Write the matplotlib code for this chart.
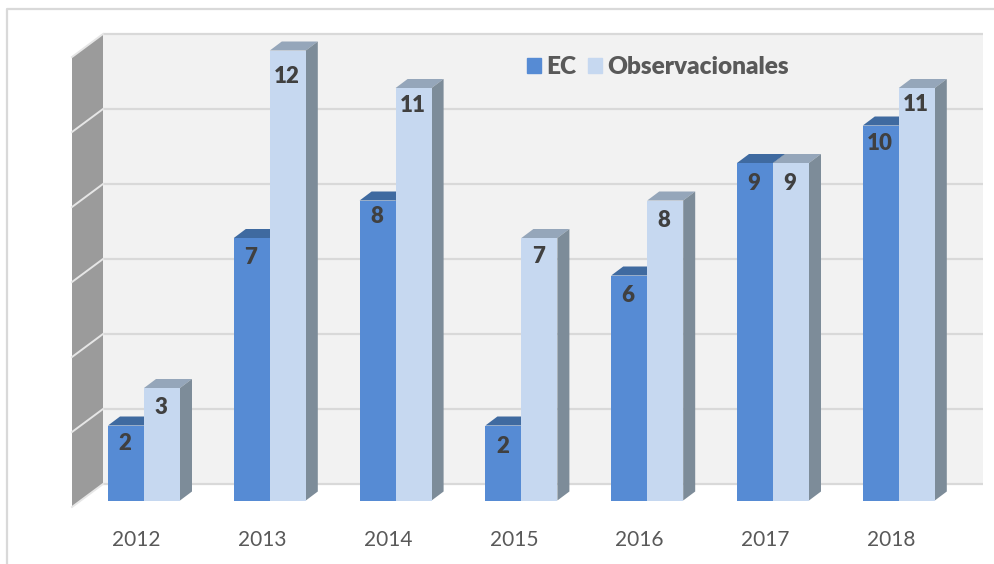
# 3D look column chart, EC vs Observacionales per year
import matplotlib
matplotlib.use('Agg')
from matplotlib import pyplot as plt
from matplotlib.patches import Patch

plt.rcParams['font.family'] = ['Lato', 'DejaVu Sans']

years = ['2012', '2013', '2014', '2015', '2016', '2017', '2018']
ec = [2, 7, 8, 2, 6, 9, 10]
obs = [3, 12, 11, 7, 8, 9, 11]
grid_values = [0, 2, 4, 6, 8, 10, 12]

# label drop below the bar top, in value units
ec_drop = [0.47, 0.53, 0.42, 0.55, 0.53, 0.55, 0.47]
obs_drop = [0.53, 0.70, 0.47, 0.50, 0.53, 0.55, 0.45]

# scale of the picture
W, H = 994, 564
unit_x = 125.8
unit_y = 37.5
x0_px = 144
y0_px = 500.5

bar_w = 36 / unit_x
depth_x = 12 / unit_x
depth_y = 9 / unit_y
wall_left = -41 / unit_x
wall_front = -72 / unit_x
wall_right = 839 / unit_x
wall_dy = 16.5 / unit_y
side_drop = 6.5 / unit_y

BLUE = '#568BD4'
BLUE_TOP = '#3F6AA0'
BLUE_SIDE = '#34587F'
LIGHT = '#C6D8F0'
LIGHT_TOP = '#95A6BA'
LIGHT_SIDE = '#7D8C99'
WALL = '#F2F2F2'
SIDE_WALL = '#9B9B9B'
GRID = '#D9D9D9'

fig = plt.figure(figsize=(W / 100, H / 100), dpi=100)
ax = fig.add_axes([0, 0, 1, 1])
ax.set_xlim(-x0_px / unit_x, (W - x0_px) / unit_x)
ax.set_ylim((y0_px - H) / unit_y, y0_px / unit_y)
ax.axis('off')

# outer chart border, only left and top are in the crop
ax.plot([-137.5 / unit_x, -137.5 / unit_x, (W - x0_px) / unit_x],
        [(y0_px - H) / unit_y, (y0_px - 8.5) / unit_y, (y0_px - 8.5) / unit_y],
        color=GRID, lw=1.6, zorder=1)

# back wall and side wall
ax.fill([wall_left, wall_right, wall_right, wall_left],
        [wall_dy, wall_dy, 12 + wall_dy, 12 + wall_dy], color=WALL, lw=0, zorder=1)
ax.fill([wall_front, wall_left, wall_left, wall_front],
        [-side_drop, wall_dy, 12 + wall_dy, 12 - side_drop], color=SIDE_WALL, lw=0, zorder=1)

for v in grid_values:
    ax.plot([wall_left, wall_right], [v + wall_dy, v + wall_dy], color=GRID, lw=1.6, zorder=2,
            solid_capstyle='butt')
    ax.plot([wall_front, wall_left], [v - side_drop, v + wall_dy], color='#E6E6E6', lw=1.4, zorder=2)


def draw_series(xs, values, front, top, side, z):
    ax.bar(xs, values, width=bar_w, color=front, lw=0, zorder=z + 0.2)
    for x, v in zip(xs, values):
        l = x - bar_w / 2
        r = x + bar_w / 2
        ax.fill([l, r, r + depth_x, l + depth_x], [v, v, v + depth_y, v + depth_y],
                color=top, lw=0, zorder=z)
        ax.fill([r, r + depth_x, r + depth_x, r], [0, depth_y, v + depth_y, v],
                color=side, lw=0, zorder=z)


for i in range(len(years)):
    z = 3 + i
    draw_series([i - bar_w / 2], [ec[i]], BLUE, BLUE_TOP, BLUE_SIDE, z)
    draw_series([i + bar_w / 2], [obs[i]], LIGHT, LIGHT_TOP, LIGHT_SIDE, z + 0.4)
    ax.text(i - bar_w / 2 - 1 / unit_x, ec[i] - ec_drop[i], str(ec[i]), ha='center', va='center',
            fontsize=16, fontweight='heavy', color='#404040', zorder=20)
    ax.text(i + bar_w / 2 - 1 / unit_x, obs[i] - obs_drop[i], str(obs[i]), ha='center', va='center',
            fontsize=16, fontweight='heavy', color='#404040', zorder=20)
    ax.text(i - 7.5 / unit_x, -1.05, years[i], ha='center', va='center',
            fontsize=15, color='#595959', zorder=20)

handles = [Patch(color=BLUE, label='EC'), Patch(color=LIGHT, label='Observacionales')]
ax.legend(handles=handles, ncol=2, frameon=False, loc='center left',
          bbox_to_anchor=(527 / W, 1 - 67.5 / H), prop={'size': 17.6, 'weight': 'heavy'},
          labelcolor='#595959', handlelength=0.58, handleheight=0.58, handletextpad=0.2,
          columnspacing=0.5, borderpad=0, borderaxespad=0)

fig.savefig('out.png', dpi=100)
